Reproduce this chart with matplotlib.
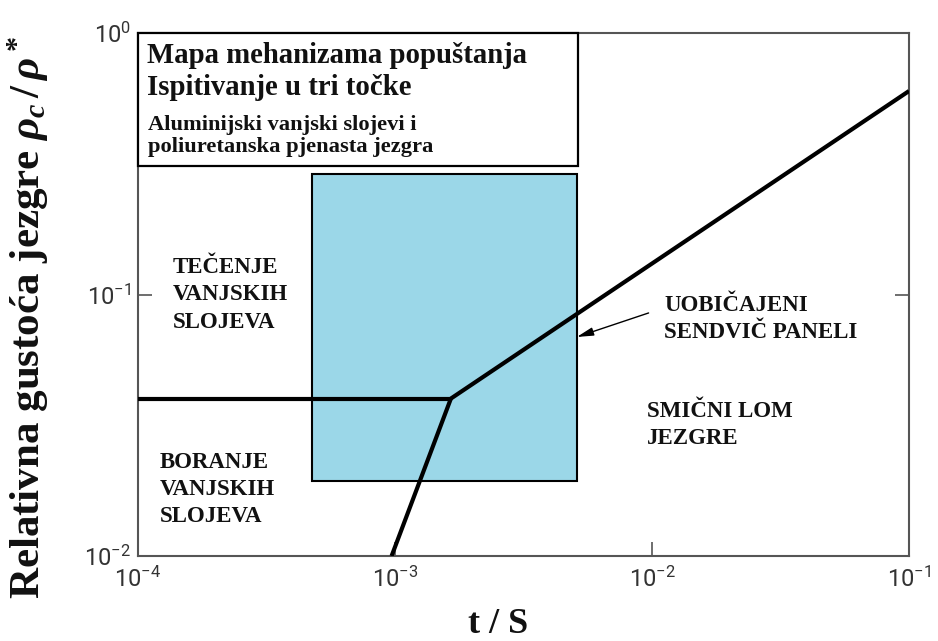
import matplotlib
matplotlib.use("Agg")
import matplotlib.pyplot as plt
from matplotlib.patches import Rectangle

# failure-mode boundaries (t/S, rho_c/rho*)
face_yield_x = [1e-4, 1.65e-3]
face_yield_y = [0.04, 0.04]
wrinkle_x = [1.65e-3, 9.7e-4]
wrinkle_y = [0.04, 0.01]
shear_x = [1.65e-3, 0.1]
shear_y = [0.04, 0.6]

# usual sandwich panel range
panel_x = [4.75e-4, 5.1e-3]
panel_y = [0.0194, 0.289]

# header box corners
header_x = [1e-4, 5.15e-3]
header_y = [0.31, 1.0]

# arrow tail/tip
arrow_tail = (9.7e-3, 0.085)
arrow_tip = (5.1e-3, 0.0688)

xticks = [1e-4, 1e-3, 1e-2, 1e-1]
yticks = [1e-2, 1e-1, 1e0]

plt.rcParams['font.family'] = ['Roboto', 'DejaVu Sans']
plt.rcParams['mathtext.fontset'] = 'custom'
plt.rcParams['mathtext.rm'] = 'Liberation Serif:bold'
plt.rcParams['mathtext.it'] = 'Liberation Serif:bold:italic'
plt.rcParams['mathtext.bf'] = 'Liberation Serif:bold'

serif = 'Liberation Serif'
txt_col = '#111111'

fig = plt.figure(figsize=(9.38, 6.41), dpi=100)
ax = fig.add_axes([138 / 938, 85 / 641, 771 / 938, 523 / 641])
ax.set_xscale('log')
ax.set_yscale('log')
ax.set_xlim(1e-4, 1e-1)
ax.set_ylim(1e-2, 1e0)
ax.set_xticks(xticks)
ax.set_yticks(yticks)
ax.minorticks_off()
ax.tick_params(which='major', direction='in', length=10, width=1.2, color='#555555',
               labelsize=17, labelcolor='#333333', right=True)
ax.tick_params(axis='x', pad=8)
ax.tick_params(axis='y', pad=5)
for s in ax.spines.values():
    s.set_color('#555555')
    s.set_linewidth(1.5)

# shaded panel range
ax.add_patch(Rectangle((panel_x[0], panel_y[0]), panel_x[1] - panel_x[0], panel_y[1] - panel_y[0],
                       facecolor='#9bd7e8', edgecolor='black', lw=1.5, zorder=1))

# header box
ax.add_patch(Rectangle((header_x[0], header_y[0]), header_x[1] - header_x[0], header_y[1] - header_y[0],
                       facecolor='white', edgecolor='black', lw=1.6, zorder=4, clip_on=False))

ax.plot(face_yield_x, face_yield_y, color='black', lw=3, zorder=3, solid_capstyle='butt')
ax.plot(wrinkle_x, wrinkle_y, color='black', lw=3, zorder=3, solid_capstyle='butt')
ax.plot(shear_x, shear_y, color='black', lw=3, zorder=3, solid_capstyle='butt')

ax.annotate('', xy=arrow_tip, xytext=arrow_tail,
            arrowprops=dict(arrowstyle='-|>,head_length=1.0,head_width=0.25', lw=1,
                            color='black', shrinkA=0, shrinkB=0), zorder=5)

# header text
ax.text(0.0117, 0.9426, 'Mapa mehanizama popuštanja', transform=ax.transAxes, family=serif,
        weight='bold', fontsize=20.7, color=txt_col, va='baseline', zorder=5)
ax.text(0.0117, 0.8815, 'Ispitivanje u tri točke', transform=ax.transAxes, family=serif,
        weight='bold', fontsize=20.7, color=txt_col, va='baseline', zorder=5)
ax.text(0.013, 0.8145, 'Aluminijski vanjski slojevi i', transform=ax.transAxes, family=serif,
        weight='bold', fontsize=16.2, color=txt_col, va='baseline', zorder=5)
ax.text(0.013, 0.7725, 'poliuretanska pjenasta jezgra', transform=ax.transAxes, family=serif,
        weight='bold', fontsize=16.2, color=txt_col, va='baseline', zorder=5)

# region labels
regions = [
    (0.0454, [0.5411, 0.4895, 0.4359], ['TEČENJE', 'VANJSKIH', 'SLOJEVA']),
    (0.0285, [0.1683, 0.1166, 0.065], ['BORANJE', 'VANJSKIH', 'SLOJEVA']),
    (0.6822, [0.4685, 0.4168], ['UOBIČAJENI', 'SENDVIČ PANELI']),
    (0.6602, [0.2658, 0.2141], ['SMIČNI LOM', 'JEZGRE']),
]
for x, ys, lines in regions:
    for y, line in zip(ys, lines):
        ax.text(x, y, line, transform=ax.transAxes, family=serif, weight='bold',
                fontsize=16.5, color=txt_col, va='baseline', zorder=5)

fig.text(28 / 938, 0.5055, r'Relativna gustoća jezgre $\rho_c\,/\,\rho^*$', rotation=90,
         ha='center', va='center', family=serif, weight='bold', fontsize=31, color=txt_col)
fig.text(498 / 938, 0.025, 't / S', ha='center', va='center', family=serif,
         weight='bold', fontsize=26, color=txt_col)

fig.savefig('out.png', dpi=100)
